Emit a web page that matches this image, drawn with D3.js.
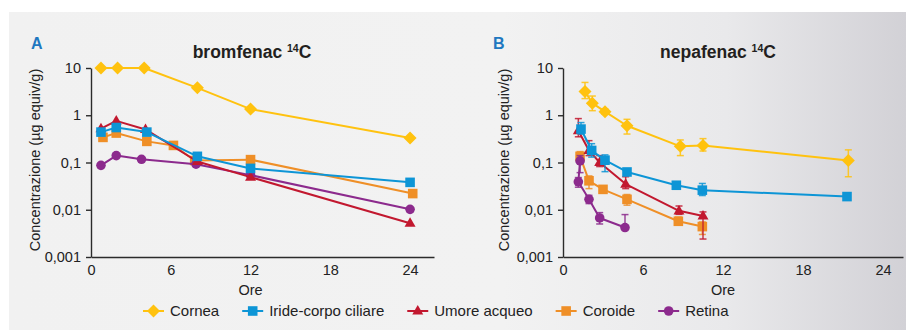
<!DOCTYPE html>
<html>
<head>
<meta charset="utf-8">
<script src="https://cdn.jsdelivr.net/npm/d3@7/dist/d3.min.js"></script>
<style>
  html, body { margin: 0; padding: 0; background: #ffffff; }
  svg { display: block; }
  text { font-family: "Liberation Sans", Arial, Helvetica, sans-serif; }
</style>
</head>
<body>
<svg id="chart" width="906" height="330"></svg>
<script>
// ---- Series names and tick labels ----
const seriesNames = ["Cornea", "Iride-corpo ciliare", "Umore acqueo", "Coroide", "Retina"];
const yTickValues = [0.001, 0.01, 0.1, 1, 10];
const yTickLabels = ["0,001", "0,01", "0,1", "1", "10"];
const xTickValues = [0, 6, 12, 18, 24];
const xTitle = "Ore";
const yTitle = "Concentrazione (µg equiv/g)";

// ---- bromfenac 14C: [ore, concentrazione] ----
const bromCornea = [[0.75, 10], [2, 10], [4, 10], [8, 3.8], [12, 1.35], [24, 0.33]];
const bromIride  = [[0.75, 0.44], [1.9, 0.55], [4.2, 0.44], [8, 0.135], [12, 0.075], [24, 0.038]];
const bromUmore  = [[0.75, 0.52], [1.9, 0.76], [4.1, 0.5], [8, 0.105], [12, 0.049], [24, 0.0052]];
const bromCoroide = [[0.9, 0.34], [1.9, 0.42], [4.2, 0.28], [6.2, 0.23], [7.8, 0.11], [12, 0.115], [24.2, 0.022]];
const bromRetina = [[0.75, 0.087], [1.9, 0.14], [3.8, 0.117], [7.9, 0.092], [12, 0.054], [24, 0.0102]];

// ---- nepafenac 14C: [ore, concentrazione, limite inferiore, limite superiore] ----
const nepCornea = [[1.65, 3.2, 2.25, 4.95], [2.2, 1.8, 1.25, 2.55], [3.15, 1.19, 1.05, 1.35], [4.8, 0.6, 0.4, 0.82],
                   [8.8, 0.22, 0.14, 0.3], [10.5, 0.23, 0.175, 0.32], [21.4, 0.11, 0.05, 0.185]];
const nepIride  = [[1.35, 0.51, 0.4, 0.7], [2.15, 0.18, 0.13, 0.25], [3.15, 0.112, 0.064, 0.145], [4.8, 0.063, null, null],
                   [8.5, 0.033, null, null], [10.45, 0.026, 0.02, 0.036], [21.3, 0.019, null, null]];
const nepUmore  = [[1.15, 0.47, 0.35, 0.85], [1.95, 0.18, 0.14, 0.29], [2.75, 0.1, 0.082, 0.14], [4.7, 0.035, 0.028, 0.05],
                   [8.7, 0.0095, 0.008, 0.012], [10.5, 0.0074, 0.0024, 0.009]];
const nepCoroide = [[1.28, 0.135, 0.105, 0.17], [1.95, 0.041, 0.028, 0.052], [3.0, 0.027, 0.024, 0.03], [4.8, 0.0166, 0.0125, 0.021],
                    [8.65, 0.0057, 0.0047, 0.007], [10.45, 0.0044, 0.003, 0.0055]];
const nepRetina = [[1.28, 0.108, 0.061, 0.14], [1.15, 0.039, 0.03, 0.048], [1.95, 0.0166, 0.0135, 0.0202],
                   [2.75, 0.0067, 0.005, 0.0087], [4.65, 0.0042, null, 0.0079]];

const bromSeries = [bromCornea, bromIride, bromUmore, bromCoroide, bromRetina];
const nepSeries = [nepCornea, nepIride, nepUmore, nepCoroide, nepRetina];

// ---- Styles ----
const colors = ["#ffc20f", "#0d95d6", "#c2182f", "#ef8f27", "#8c2a8d"];
const shapes = ["diamond", "square", "triangle", "square", "circle"];
const drawOrder = [3, 4, 2, 1, 0];

const svg = d3.select("#chart");

// Background panel with a soft grey gradient toward the right edge
const defs = svg.append("defs");
const grad = defs.append("linearGradient").attr("id", "bg").attr("x1", "0").attr("x2", "1").attr("y1", "0").attr("y2", "0");
grad.append("stop").attr("offset", "0%").attr("stop-color", "#f1f1f1");
grad.append("stop").attr("offset", "55%").attr("stop-color", "#f2f2f2");
grad.append("stop").attr("offset", "80%").attr("stop-color", "#e9e9eb");
grad.append("stop").attr("offset", "100%").attr("stop-color", "#d2d1d6");
svg.append("rect").attr("x", 9).attr("y", 12).attr("width", 897).attr("height", 318).attr("fill", "url(#bg)");

function symbolPath(shape) {
  if (shape === "diamond") { const r = 6.5; return `M0,${-r}L${r},0L0,${r}L${-r},0Z`; }
  if (shape === "square") { const h = 4.8; return `M${-h},${-h}H${h}V${h}H${-h}Z`; }
  if (shape === "triangle") { const s = 11, h = s * Math.sqrt(3) / 2; return `M0,${-h * 0.62}L${s / 2},${h * 0.38}L${-s / 2},${h * 0.38}Z`; }
  return d3.symbol().type(d3.symbolCircle).size(Math.PI * 4.8 * 4.8)();
}

function drawPanel(cfg) {
  const x = d3.scaleLinear().domain(cfg.xDomain).range(cfg.xRange);
  const y = d3.scaleLog().domain([0.001, 10]).range([257, 68]);
  const g = svg.append("g");

  // Panel letter and title
  g.append("text").attr("x", cfg.letterX).attr("y", 49).attr("fill", "#1f78c0")
    .attr("font-size", 16).attr("font-weight", "bold").text(cfg.letter);
  const t = g.append("text").attr("x", cfg.titleX).attr("y", 58).attr("text-anchor", "middle")
    .attr("fill", "#231f20").attr("font-size", 17.5).attr("font-weight", "bold");
  t.append("tspan").text(cfg.title + " ");
  t.append("tspan").attr("font-size", 10.5).attr("dy", -6).text("14");
  t.append("tspan").attr("dy", 6).text("C");

  // Axes
  const yAxis = d3.axisLeft(y).tickValues(yTickValues).tickSize(5).tickSizeOuter(0)
    .tickFormat((d, i) => yTickLabels[i]);
  const ya = g.append("g").attr("transform", `translate(${cfg.xRange[0]},0)`).call(yAxis);
  const xAxis = d3.axisBottom(x).tickValues(xTickValues).tickSize(0).tickSizeOuter(0);
  const xa = g.append("g").attr("transform", "translate(0,257)").call(xAxis);
  [ya, xa].forEach(a => {
    a.selectAll("path, line").attr("stroke", "#2b2b2b").attr("stroke-width", 1.4);
    a.selectAll("text").attr("font-size", 14.5).attr("fill", "#222").attr("font-family", "Liberation Sans, Arial, sans-serif");
  });
  ya.selectAll("text").attr("x", -10);
  xa.selectAll("text").attr("dy", "0").attr("y", 18);

  g.append("text").attr("x", x(12)).attr("y", 295).attr("text-anchor", "middle")
    .attr("font-size", 14.5).attr("fill", "#222").text(xTitle);
  g.append("text").attr("transform", `translate(${cfg.yTitleX},160) rotate(-90)`)
    .attr("text-anchor", "middle").attr("font-size", 14.5).attr("fill", "#222").text(yTitle);

  const line = d3.line().x(d => x(d[0])).y(d => y(d[1]));

  drawOrder.forEach(i => {
    const data = cfg.series[i];
    const sg = g.append("g");
    // Error bars
    if (cfg.errors) {
      data.forEach(d => {
        const lo = d[2] == null ? d[1] : d[2];
        const hi = d[3] == null ? d[1] : d[3];
        if (lo === hi) return;
        const cx = x(d[0]);
        sg.append("line").attr("x1", cx).attr("x2", cx).attr("y1", y(lo)).attr("y2", y(hi))
          .attr("stroke", colors[i]).attr("stroke-width", 1.5).attr("opacity", 0.85);
        [lo, hi].forEach(v => {
          if (v === d[1]) return;
          sg.append("line").attr("x1", cx - 3.5).attr("x2", cx + 3.5).attr("y1", y(v)).attr("y2", y(v))
            .attr("stroke", colors[i]).attr("stroke-width", 1.5).attr("opacity", 0.85);
        });
      });
    }
    sg.append("path").attr("d", line(data)).attr("fill", "none")
      .attr("stroke", colors[i]).attr("stroke-width", 2).attr("stroke-linejoin", "round");
    sg.selectAll(".m").data(data).enter().append("path")
      .attr("transform", d => `translate(${x(d[0])},${y(d[1])})`)
      .attr("d", symbolPath(shapes[i])).attr("fill", colors[i]);
  });
}

drawPanel({ letter: "A", letterX: 31, title: "bromfenac", titleX: 252, yTitleX: 40,
  xDomain: [0, 25.8], xRange: [91, 434], series: bromSeries, errors: false });
drawPanel({ letter: "B", letterX: 493, title: "nepafenac", titleX: 718, yTitleX: 509,
  xDomain: [0, 25.5], xRange: [563, 903], series: nepSeries, errors: true });

// Legend
const lg = svg.append("g");
let lx = 143;
seriesNames.forEach((name, i) => {
  lg.append("line").attr("x1", lx).attr("x2", lx + 21).attr("y1", 311).attr("y2", 311)
    .attr("stroke", colors[i]).attr("stroke-width", 2);
  lg.append("path").attr("transform", `translate(${lx + 10.5},311)`).attr("d", symbolPath(shapes[i])).attr("fill", colors[i]);
  const tx = lg.append("text").attr("x", lx + 27).attr("y", 316).attr("font-size", 15).attr("fill", "#222").text(name);
  lx += 27 + tx.node().getComputedTextLength() + 23;
});
</script>
</body>
</html>
